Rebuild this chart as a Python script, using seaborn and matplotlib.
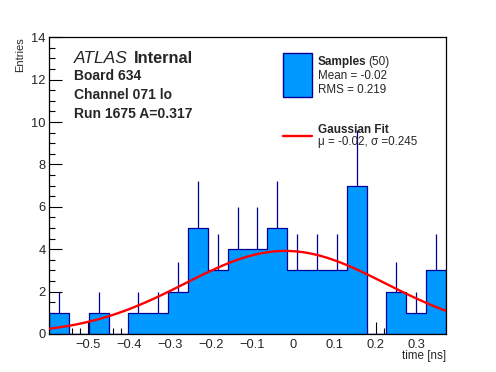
import numpy as np
import pandas as pd
import matplotlib
matplotlib.use("Agg")
import matplotlib.pyplot as plt
from matplotlib.ticker import MultipleLocator, FuncFormatter
from matplotlib.patches import Rectangle
from matplotlib.lines import Line2D
import seaborn as sns

# ---- data ----
x_min = -0.5956
x_max = 0.3715
n_bins = 20
bin_counts = [1, 0, 1, 0, 1, 1, 2, 5, 3, 4, 4, 5, 3, 3, 3, 7, 0, 2, 1, 3]
fit_mu = -0.02
fit_sigma = 0.245
fit_amp = 3.92
y_ticks = [0, 2, 4, 6, 8, 10, 12, 14]
x_ticks = [-0.5, -0.4, -0.3, -0.2, -0.1, 0.0, 0.1, 0.2, 0.3]
header_lines = ["Board 634", "Channel 071 lo", "Run 1675 A=0.317"]
n_samples = 50
mean_val = -0.02
rms_val = 0.219

sns.set_style("ticks")
plt.rcParams['font.family'] = ['Liberation Sans', 'DejaVu Sans']
plt.rcParams['axes.unicode_minus'] = True

W, H = 496, 372
fig = plt.figure(figsize=(W / 100, H / 100), dpi=100)
ax = fig.add_axes([49 / W, 1 - 334 / H, (446 - 49) / W, (334 - 37.3) / H])

edges = np.linspace(x_min, x_max, n_bins + 1)
centers = 0.5 * (edges[:-1] + edges[1:])
counts = np.array(bin_counts, dtype=float)
df = pd.DataFrame({"time": centers, "n": counts})

fill_col = "#0099ff"
edge_col = "#000099"

# error bars (upper part visible above the bar)
nz = counts > 0
ax.vlines(centers[nz], counts[nz], counts[nz] + np.sqrt(counts[nz]),
          color=edge_col, lw=0.9, zorder=3)

sns.histplot(data=df, x="time", weights="n", bins=edges.tolist(), element="step",
             fill=True, color=fill_col, edgecolor=edge_col, alpha=1.0,
             linewidth=0.9, ax=ax, zorder=2)

# gaussian fit curve
xf = np.linspace(x_min, x_max, 100)
yf = fit_amp * np.exp(-0.5 * ((xf - fit_mu) / fit_sigma) ** 2)
sns.lineplot(x=xf, y=yf, color="#ff0000", lw=1.7, ax=ax, zorder=4)

ax.set_xlim(x_min, x_max)
ax.set_ylim(0, 14)
ax.set_xlabel("")
ax.set_ylabel("")
ax.set_xticks(x_ticks)
ax.set_yticks(y_ticks)
ax.xaxis.set_minor_locator(MultipleLocator(0.02))
ax.yaxis.set_minor_locator(MultipleLocator(0.5))
ax.xaxis.set_major_formatter(FuncFormatter(lambda v, p: "0" if abs(v) < 1e-9 else f"{v:.1f}".replace("-", "\u2212")))
ax.tick_params(which="major", direction="in", length=9, width=0.8, labelsize=9.3, color="black")
ax.tick_params(which="minor", direction="in", length=4.5, width=0.8, color="black")
ax.tick_params(axis="x", pad=3.5)
ax.tick_params(axis="y", pad=2.5)
for s in ax.spines.values():
    s.set_visible(True)
    s.set_linewidth(0.9)
    s.set_color("black")

fig.text(446 / W, 1 - 359.3 / H, "time [ns]", ha="right", va="baseline", fontsize=8.4)
fig.text(15 / W, 1 - 37 / H, "Entries", ha="right", va="top", rotation=90, fontsize=8,
         rotation_mode="anchor")

def fx(px):
    return px / W

def fy(py):
    return 1 - py / H

fig.text(fx(74), fy(63.3), "ATLAS", style="italic", fontsize=12.5, va="baseline")
fig.text(fx(134.3), fy(63.3), "Internal", weight="bold", fontsize=11.8, va="baseline")
for i, t in enumerate(header_lines):
    fig.text(fx(74), fy([80.5, 99.3, 117.7][i]), t, weight="bold", fontsize=10, va="baseline")

# legend
fig.patches.append(Rectangle((fx(283.3), fy(96.7)), (311.7 - 283.3) / W, (96.7 - 53.3) / H,
                             transform=fig.transFigure, facecolor=fill_col,
                             edgecolor=edge_col, lw=1.0))
fig.text(fx(317.7), fy(65), "Samples", weight="bold", fontsize=8.5, va="baseline")
fig.text(fx(368), fy(65), f"({n_samples})", fontsize=8.5, va="baseline")
fig.text(fx(317.7), fy(79.3), f"Mean = {mean_val:.2f}", fontsize=8.4, va="baseline")
fig.text(fx(317.7), fy(93.3), f"RMS = {rms_val:.3f}", fontsize=8.4, va="baseline")
fig.lines.append(Line2D([fx(283.3), fx(311.7)], [fy(136), fy(136)], transform=fig.transFigure,
                        color="#ff0000", lw=1.7))
fig.text(fx(317.7), fy(132.7), "Gaussian Fit", weight="bold", fontsize=8.5, va="baseline")
fig.text(fx(317.7), fy(144.5), f"\u03bc = {fit_mu:.2f}, \u03c3 ={fit_sigma:.3f}", fontsize=8.4, va="baseline")

fig.savefig("out.png", dpi=100)
